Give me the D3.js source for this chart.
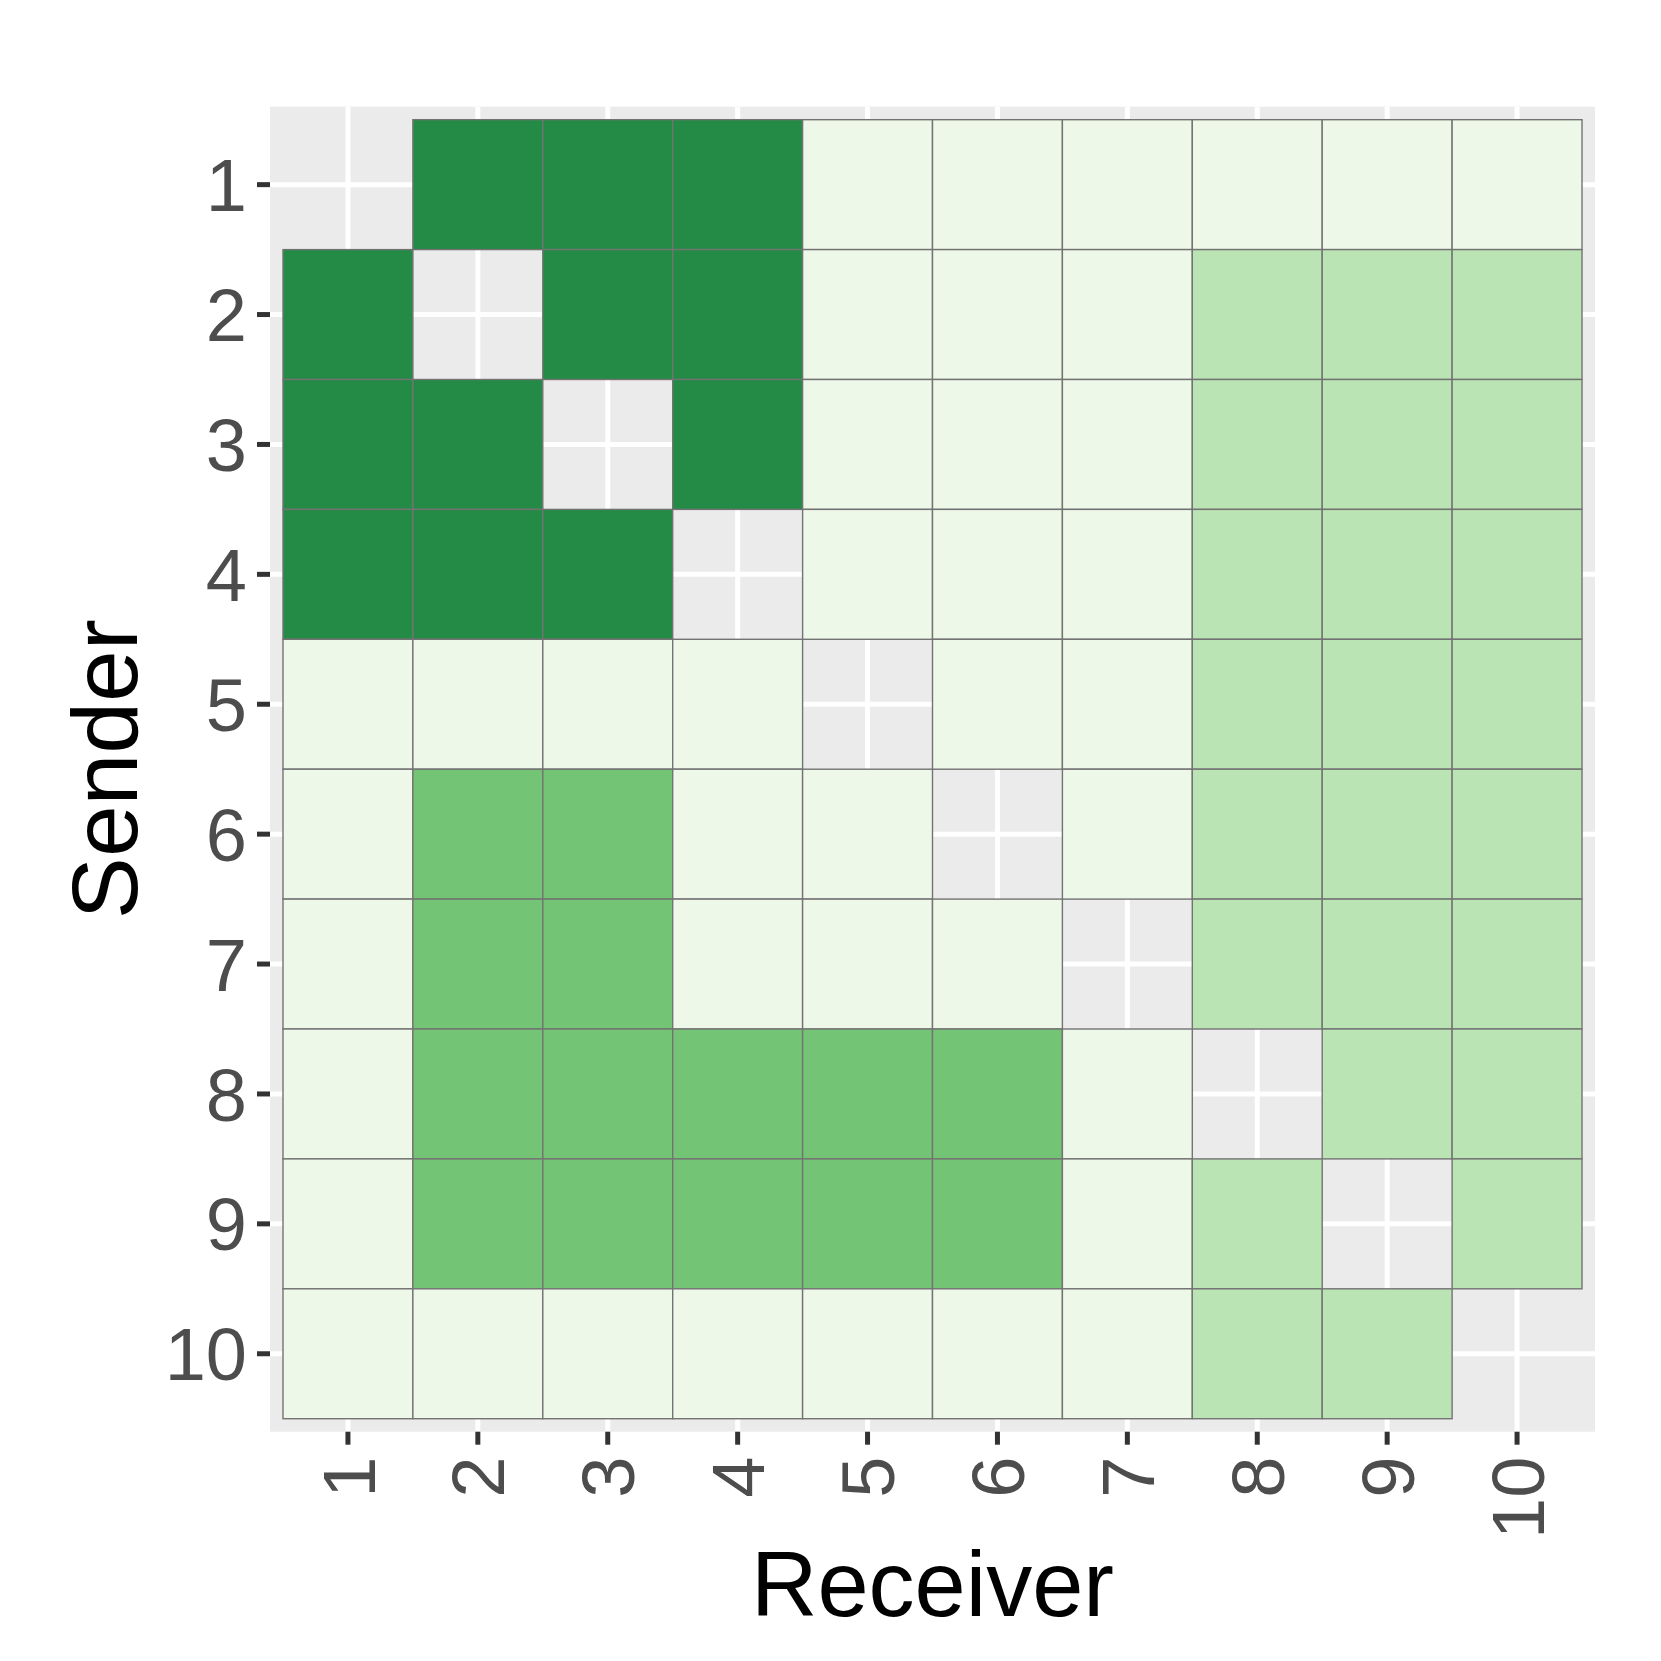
<!DOCTYPE html>
<html><head><meta charset="utf-8">
<script src="https://cdn.jsdelivr.net/npm/d3@7"></script>
<style>body{margin:0;background:#fff}</style>
</head><body>
<script>
const senders = ["1","2","3","4","5","6","7","8","9","10"];
const receivers = ["1","2","3","4","5","6","7","8","9","10"];
// level of each cell (rows = sender, cols = receiver); null = diagonal (no tile)
const row1  = [null,3,3,3,0,0,0,0,0,0];
const row2  = [3,null,3,3,0,0,0,1,1,1];
const row3  = [3,3,null,3,0,0,0,1,1,1];
const row4  = [3,3,3,null,0,0,0,1,1,1];
const row5  = [0,0,0,0,null,0,0,1,1,1];
const row6  = [0,2,2,0,0,null,0,1,1,1];
const row7  = [0,2,2,0,0,0,null,1,1,1];
const row8  = [0,2,2,2,2,2,0,null,1,1];
const row9  = [0,2,2,2,2,2,0,1,null,1];
const row10 = [0,0,0,0,0,0,0,1,1,null];
const levelColors = ["#edf8e9","#bae4b3","#74c476","#238b45"];

const rows = [row1,row2,row3,row4,row5,row6,row7,row8,row9,row10];
const cells = [];
rows.forEach((r,i)=>r.forEach((v,j)=>{ if(v!==null) cells.push({s:senders[i], r:receivers[j], v}); }));

const W=1661, H=1661;
const panel = {x0:270, x1:1595, y0:106.7, y1:1431.7};
const svg = d3.select("body").append("svg").attr("width",W).attr("height",H);

const n = senders.length;
const unit = (panel.x1-panel.x0)/(n+0.2);
const x = d3.scaleBand().domain(receivers).range([panel.x0+0.1*unit, panel.x1-0.1*unit]).padding(0);
const y = d3.scaleBand().domain(senders).range([panel.y0+0.1*unit, panel.y1-0.1*unit]).padding(0);
const color = d3.scaleOrdinal().domain([0,1,2,3]).range(levelColors);

svg.append("rect").attr("x",panel.x0).attr("y",panel.y0)
  .attr("width",panel.x1-panel.x0).attr("height",panel.y1-panel.y0).attr("fill","#ebebeb");

svg.append("g").selectAll("line").data(receivers).join("line")
  .attr("x1",d=>x(d)+x.bandwidth()/2).attr("x2",d=>x(d)+x.bandwidth()/2)
  .attr("y1",panel.y0).attr("y2",panel.y1).attr("stroke","#fff").attr("stroke-width",5);
svg.append("g").selectAll("line").data(senders).join("line")
  .attr("y1",d=>y(d)+y.bandwidth()/2).attr("y2",d=>y(d)+y.bandwidth()/2)
  .attr("x1",panel.x0).attr("x2",panel.x1).attr("stroke","#fff").attr("stroke-width",5);

svg.append("g").selectAll("rect").data(cells).join("rect")
  .attr("x",d=>x(d.r)).attr("y",d=>y(d.s))
  .attr("width",x.bandwidth()).attr("height",y.bandwidth())
  .attr("fill",d=>color(d.v)).attr("stroke","#737373").attr("stroke-width",1.4);

const font = "'Liberation Sans', Arial, Helvetica, sans-serif";
const yAxis = d3.axisLeft(y).tickSize(13).tickPadding(10);
const gy = svg.append("g").attr("transform",`translate(${panel.x0},0)`).call(yAxis);
gy.select(".domain").remove();
gy.selectAll(".tick line").attr("stroke","#333333").attr("stroke-width",5);
gy.selectAll(".tick text").attr("font-family",font).attr("font-size",74).attr("fill","#4d4d4d").attr("dy","0.36em");

const xAxis = d3.axisBottom(x).tickSize(13).tickPadding(10);
const gx = svg.append("g").attr("transform",`translate(0,${panel.y1})`).call(xAxis);
gx.select(".domain").remove();
gx.selectAll(".tick line").attr("stroke","#333333").attr("stroke-width",5);
gx.selectAll(".tick text").attr("font-family",font).attr("font-size",74).attr("fill","#4d4d4d")
  .attr("text-anchor","end").attr("y",0)
  .attr("transform","translate(0,25) rotate(-90)").attr("dy","0.36em");

svg.append("text").attr("x",(panel.x0+panel.x1)/2).attr("y",1616)
  .attr("text-anchor","middle").attr("font-family",font).attr("font-size",92).attr("fill","#000").text("Receiver");
svg.append("text").attr("transform",`translate(137,${(panel.y0+panel.y1)/2}) rotate(-90)`)
  .attr("text-anchor","middle").attr("font-family",font).attr("font-size",93).attr("fill","#000").text("Sender");
</script>
</body></html>
